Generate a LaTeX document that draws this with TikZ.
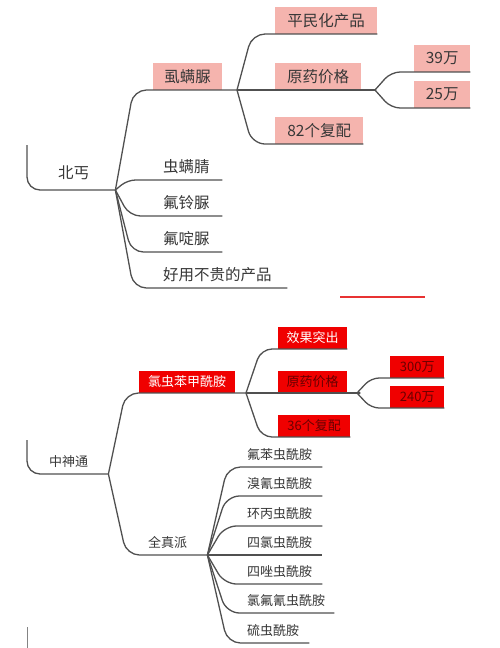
\documentclass[tikz,border=0pt]{standalone}
\usepackage{fontspec}
\newfontfamily\cjk{Noto Sans CJK SC}
\usetikzlibrary{calc}
\definecolor{lg}{RGB}{80,80,80}
\definecolor{txt}{RGB}{55,55,55}
\definecolor{pinkfill}{RGB}{245,180,174}
\definecolor{redfill}{RGB}{240,0,0}
\definecolor{darktxt}{RGB}{105,0,0}
\definecolor{accent}{RGB}{232,50,50}
\tikzset{
  conn/.style={draw=lg, line width=1.3pt, rounded corners=13pt},
  pinkbox/.style={fill=pinkfill, text=txt, font=\cjk\fontsize{15.5}{15.5}\selectfont,
    inner xsep=0pt, inner ysep=0pt, minimum height=27pt, anchor=south west},
  redbox/.style={fill=redfill, font=\cjk\fontsize{13}{13}\selectfont,
    inner xsep=0pt, inner ysep=0pt, minimum height=22pt, anchor=south west},
  plainA/.style={text=txt, font=\cjk\fontsize{15.5}{15.5}\selectfont, align=left,
    inner xsep=0pt, inner ysep=4pt, text height=11pt, text depth=3pt, anchor=south west},
  plainB/.style={text=txt, font=\cjk\fontsize{13}{13}\selectfont, align=left,
    inner xsep=0pt, inner ysep=4pt, text height=10pt, text depth=3pt, anchor=south west},
}
\begin{document}
\begin{tikzpicture}[x=1pt,y=-1pt]
\useasboundingbox (0,0) rectangle (500,648);

% ---------- top section ----------
\coordinate (R1) at (27,145);
\node[plainA, text width=57pt, inner ysep=8pt] (beigai) at (58,190) {北丐};
\draw[conn] (R1) -- (R1 |- beigai.south) -- (beigai.south east);

\node[pinkbox, minimum width=69pt] (shi) at (153,90) {虱螨脲};
\coordinate (J2) at (237,90);
\draw[conn] (beigai.south east) -- ($(shi.south -| beigai.south east)+(18,0)$) -- (shi.south east) -- (J2);

\node[pinkbox, minimum width=102pt] (pm) at (275,34) {平民化产品};
\draw[conn] (J2) -- ($(pm.south -| J2)+(15,0)$) -- (pm.south east);
\node[pinkbox, minimum width=86pt] (yy1) at (275,90) {原药价格};
\coordinate (J3) at (375,90);
\draw[conn] (J2) -- (yy1.south west) -- (yy1.south east) -- (J3);
\node[pinkbox, minimum width=88pt] (fp82) at (275,144) {82个复配};
\draw[conn] (J2) -- ($(fp82.south -| J2)+(15,0)$) -- (fp82.south east);

\node[pinkbox, minimum width=56pt] (w39) at (414,72) {39万};
\draw[conn, rounded corners=9pt] (J3) -- ($(w39.south -| J3)+(16,0)$) -- (w39.south east);
\node[pinkbox, minimum width=56pt] (w25) at (414,108) {25万};
\draw[conn, rounded corners=9pt] (J3) -- ($(w25.south -| J3)+(16,0)$) -- (w25.south east);

\node[plainA, text width=59pt] (cml) at (163,180) {虫螨腈};
\draw[conn, rounded corners=8pt] (beigai.south east) -- ($(cml.south -| beigai.south east)+(12,0)$) -- (cml.south east);
\node[plainA, text width=59pt] (fll) at (163,216) {氟铃脲};
\draw[conn, rounded corners=11pt] (beigai.south east) -- ($(fll.south -| beigai.south east)+(14,0)$) -- (fll.south east);
\node[plainA, text width=59pt] (fdl) at (163,252) {氟啶脲};
\draw[conn, rounded corners=12pt] (beigai.south east) -- ($(fdl.south -| beigai.south east)+(16,0)$) -- (fdl.south east);
\node[plainA, text width=124pt] (hy) at (163,288) {好用不贵的产品};
\draw[conn, rounded corners=13pt] (beigai.south east) -- ($(hy.south -| beigai.south east)+(18,0)$) -- (hy.south east);

% accent line
\draw[accent, line width=1.5pt] (340,297) -- (425,297);

% ---------- bottom section ----------
\coordinate (R2) at (27,440);
\node[plainB, text width=59pt] (zst) at (49,474) {中神通};
\draw[conn] (R2) -- (R2 |- zst.south) -- (zst.south east);

\node[redbox, minimum width=96pt, text=white] (lcb) at (139,393) {氯虫苯甲酰胺};
\coordinate (J5) at (246,393);
\draw[conn] (zst.south east) -- ($(lcb.south -| zst.south east)+(17,0)$) -- (lcb.south east) -- (J5);

\node[plainB, text width=59pt] (qzp) at (148,555) {全真派};
\draw[conn] (zst.south east) -- ($(qzp.south -| zst.south east)+(18,0)$) -- (qzp.south east);

\node[redbox, minimum width=69pt, text=white] (xg) at (278,349) {效果突出};
\draw[conn, rounded corners=11pt] (J5) -- ($(xg.south -| J5)+(15,0)$) -- (xg.south east);
\node[redbox, minimum width=69pt, text=darktxt] (yy2) at (278,393) {原药价格};
\coordinate (J7) at (357,393);
\draw[conn] (J5) -- (yy2.south west) -- (yy2.south east) -- (J7);
\node[redbox, minimum width=72pt, text=darktxt] (fp36) at (278,437) {36个复配};
\draw[conn, rounded corners=11pt] (J5) -- ($(fp36.south -| J5)+(15,0)$) -- (fp36.south east);

\node[redbox, minimum width=54pt, text=darktxt] (w300) at (390,378) {300万};
\draw[conn, rounded corners=8pt] (J7) -- ($(w300.south -| J7)+(14,0)$) -- (w300.south east);
\node[redbox, minimum width=54pt, text=darktxt] (w240) at (390,408) {240万};
\draw[conn, rounded corners=8pt] (J7) -- ($(w240.south -| J7)+(14,0)$) -- (w240.south east);

\node[plainB, text width=75pt] (q1) at (247,467) {氟苯虫酰胺};
\draw[conn, rounded corners=13pt] (qzp.south east) -- ($(q1.south -| qzp.south east)+(20,0)$) -- (q1.south east);
\node[plainB, text width=75pt] (q2) at (247,496) {溴氰虫酰胺};
\draw[conn, rounded corners=13pt] (qzp.south east) -- ($(q2.south -| qzp.south east)+(19,0)$) -- (q2.south east);
\node[plainB, text width=75pt] (q3) at (247,526) {环丙虫酰胺};
\draw[conn, rounded corners=12pt] (qzp.south east) -- ($(q3.south -| qzp.south east)+(17,0)$) -- (q3.south east);
\node[plainB, text width=75pt] (q4) at (247,555) {四氯虫酰胺};
\draw[conn] (qzp.south east) -- (q4.south east);
\node[plainB, text width=75pt] (q5) at (247,584) {四唑虫酰胺};
\draw[conn, rounded corners=12pt] (qzp.south east) -- ($(q5.south -| qzp.south east)+(17,0)$) -- (q5.south east);
\node[plainB, text width=87pt] (q6) at (247,613) {氯氟氰虫酰胺};
\draw[conn, rounded corners=13pt] (qzp.south east) -- ($(q6.south -| qzp.south east)+(19,0)$) -- (q6.south east);
\node[plainB, text width=62pt] (q7) at (247,643) {硫虫酰胺};
\draw[conn, rounded corners=13pt] (qzp.south east) -- ($(q7.south -| qzp.south east)+(20,0)$) -- (q7.south east);

% stub of next branch
\coordinate (R3) at (27,627);
\coordinate (R3end) at (27,648);
\draw[draw=lg!70, line width=1pt] (R3) -- (R3end);
\end{tikzpicture}
\end{document}
